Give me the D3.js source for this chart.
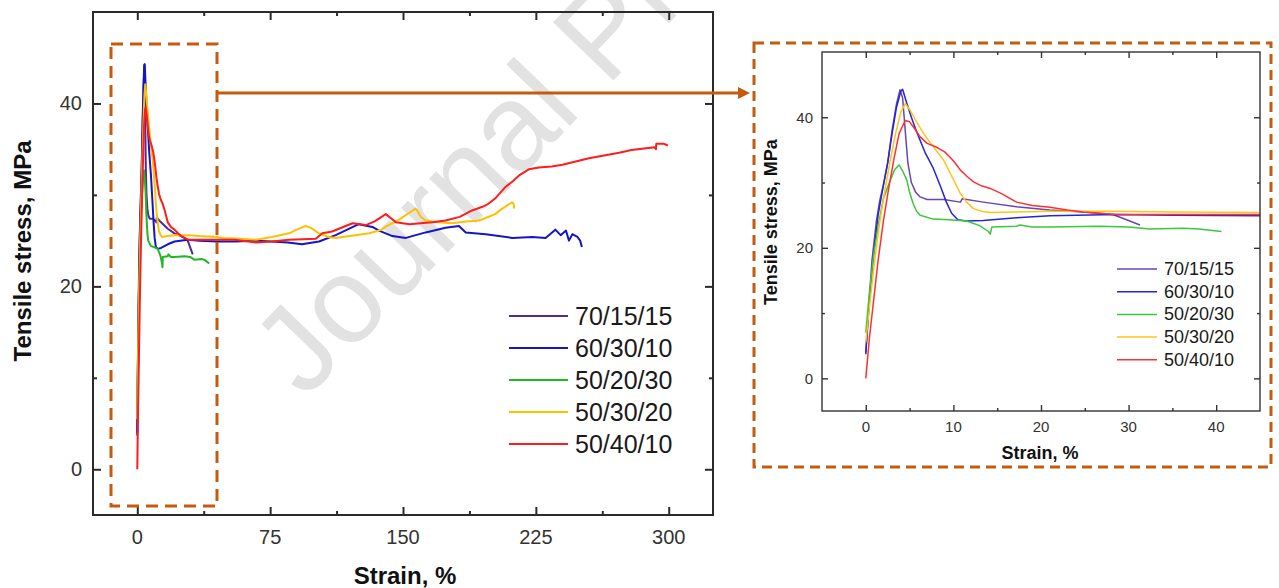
<!DOCTYPE html>
<html>
<head>
<meta charset="utf-8">
<script src="https://cdn.jsdelivr.net/npm/d3@7"></script>
<style>
body{margin:0;background:#fff;}
svg{display:block;font-family:"Liberation Sans",Arial,sans-serif;}
</style>
</head>
<body>
<svg id="chart" width="1279" height="588"></svg>
<script>
// sample names, legend order
var names=["70/15/15","60/30/10","50/20/30","50/30/20","50/40/10"];
var colorsMain=["#4f2a98","#1515c8","#22b822","#ffc000","#ff1c1c"];
var colorsInset=["#6a45b4","#2424d8","#3cc83c","#ffc414","#ff3030"];

// strain (%) / stress (MPa)
var strain7015=[0,0.3,0.7,1.2,1.6,2.0,2.5,3.0,3.5,3.9,4.2,4.5,4.8,5.2,5.7,6.2,7.0,8.9,10.8,11.0,13.4,17.2,21,24.8,28.2,29.4,31.3];
var stress7015=[4,10,18,24,27.3,29.6,33,38,42,44.2,43,38,33,30,28.5,27.8,27.4,27.4,27.0,27.5,27.0,26.3,25.8,25.5,25.1,24.5,23.5];

var strain6030=[0,0.4,0.9,1.4,2.0,2.5,3.0,3.5,4.0,4.2,4.6,5.2,5.8,6.8,7.7,8.5,9.2,9.8,10.5,11.5,13.4,17.2,21,28.6,35,45,55,67,76,85,93,102.6,112,125,132.7,136.5,144,151.6,162.8,174,181.6,185.4,196.7,211.6,223,230.5,236,239,242,243.7,245.6,248.5,250,251];
var stress6030=[3.7,12,19,25,29.5,33,37.5,41.5,44.0,44.3,42.5,40,37.8,34.5,32.2,29.5,27,25.3,24.3,24.1,24.2,24.6,24.9,25.1,25.0,24.9,24.9,25.0,24.9,24.8,24.6,24.9,25.6,26.8,26.5,26.1,25.5,25.3,25.9,26.4,26.6,25.9,25.7,25.3,25.4,25.3,26.2,25.6,26.1,25.0,25.7,25.4,25.0,24.3];

var strain5020=[0,0.4,0.9,1.5,2.0,2.7,3.3,3.8,4.2,4.7,5.0,5.4,5.8,6.2,7.7,9.5,11.5,13.0,14.0,14.2,14.4,17.2,17.6,19,21,26.7,30,32.4,36.2,38,40.6];
var stress5020=[7,13,19,24,27.5,30,32,32.7,31.8,30.3,28.5,26.8,25.6,25.0,24.4,24.3,24.1,23.4,22.5,22.1,23.2,23.3,23.5,23.2,23.2,23.3,23.2,22.9,23.0,22.9,22.5];

var strain5030=[0,0.5,1.0,1.6,2.2,2.8,3.4,4.0,4.5,5.0,5.8,6.6,7.7,8.9,9.8,10.8,11.5,12.3,13.2,14.2,17,21,28.6,35,45,48,58,67,76,85.7,90,95,98,102.6,108,112,123,131,138,140,147.8,154,157,158,160,162.8,170,177.8,185.6,193,197,202,206,211.6,212.5,212.8];
var stress5030=[5.5,12,18,24,29,33.5,37.5,40.8,42.1,41.2,39.3,37.5,35.5,33.4,31,28.3,27,26,25.6,25.4,25.5,25.6,25.6,25.5,25.4,25.3,25.2,25.1,25.4,25.8,26.2,26.6,26.4,25.8,25.4,25.3,25.6,25.8,26.2,26.5,27.3,28.1,28.5,28.3,27.6,27.2,27.0,26.9,27.1,27.2,27.5,27.9,28.5,29.2,29.0,28.5];

var strain5040=[0,0.4,0.9,1.4,2.0,2.6,3.2,3.8,4.5,5.0,5.6,6.2,7.0,8.1,9.0,9.6,10.2,10.8,11.5,12.3,13.2,14.2,15.5,17.2,19,21,23,24.8,28.6,35,45,55,67,76,85.7,100.8,104.5,110,121.5,129,134,140.3,146,153.7,160,166.6,174,182,189,194.8,198,202,208,212,216,221,226.7,234,240,255,272,279,292,292.8,293,297,299.5];
var stress5040=[0,6,12,18,24,29,33.5,37.5,39.5,39.3,38.2,37,36,35.4,34.7,33.9,33,31.9,31,30.1,29.5,29.1,28.3,27.0,26.5,26.2,25.8,25.5,25.1,25.1,25.1,25.1,24.8,24.9,25.1,25.2,25.8,26.0,26.9,26.7,27.1,27.9,27.0,26.8,26.9,27.0,27.2,27.6,28.3,28.7,29.0,29.6,30.9,31.5,32.2,32.8,33.0,33.1,33.3,34.0,34.6,34.9,35.2,35.0,35.6,35.6,35.4];

var strainSets=[strain7015,strain6030,strain5020,strain5030,strain5040];
var stressSets=[stress7015,stress6030,stress5020,stress5030,stress5040];

// tick values
var mainXTicks=[0,75,150,225,300];
var mainXMinor=[37.5,112.5,187.5,262.5];
var yTicks=[0,20,40];
var yMinor=[10,30];
var insetXTicks=[0,10,20,30,40];
var insetXMinor=[5,15,25,35];

var svg=d3.select("#chart");
var boxColor="#c55a11";

//////////// watermark
svg.append("text")
	.attr("transform","translate(305,400) rotate(-46)")
	.attr("font-size",122)
	.attr("fill","#e2e2e2")
	.text("Journal Pre-proof");

//////////// build one panel (frame, ticks, labels, curves, legend)
function drawPanel(opt){
	var x=d3.scaleLinear().domain(opt.xDomain).range([opt.left,opt.right]);
	var y=d3.scaleLinear().domain([-5,50]).range([opt.bottom,opt.top]);
	var g=svg.append("g");
	var clipId="clip"+opt.id;

	g.append("clipPath").attr("id",clipId)
		.append("rect")
		.attr("x",opt.left).attr("y",opt.top)
		.attr("width",opt.right-opt.left).attr("height",opt.bottom-opt.top);

	// inward ticks on all four sides
	var axB=d3.axisTop(x).tickValues(opt.xTicks).tickSize(opt.major).tickFormat("");
	var axT=d3.axisBottom(x).tickValues(opt.xTicks).tickSize(opt.major).tickFormat("");
	var axL=d3.axisRight(y).tickValues(yTicks).tickSize(opt.major).tickFormat("");
	var axR=d3.axisLeft(y).tickValues(yTicks).tickSize(opt.major).tickFormat("");
	var mB=d3.axisTop(x).tickValues(opt.xMinor).tickSize(opt.minor).tickFormat("");
	var mT=d3.axisBottom(x).tickValues(opt.xMinor).tickSize(opt.minor).tickFormat("");
	var mL=d3.axisRight(y).tickValues(yMinor).tickSize(opt.minor).tickFormat("");
	var mR=d3.axisLeft(y).tickValues(yMinor).tickSize(opt.minor).tickFormat("");

	[[axB,mB,"translate(0,"+opt.bottom+")"],[axT,mT,"translate(0,"+opt.top+")"],
	 [axL,mL,"translate("+opt.left+",0)"],[axR,mR,"translate("+opt.right+",0)"]].forEach(function(a){
		var ga=g.append("g").attr("transform",a[2]).call(a[0]);
		var gm=g.append("g").attr("transform",a[2]).call(a[1]);
		[ga,gm].forEach(function(s){
			s.select(".domain").remove();
			s.selectAll("line").attr("stroke",opt.frameColor).attr("stroke-width",opt.frameWidth);
		});
	});

	// tick labels
	g.selectAll(".xl").data(opt.xTicks).enter().append("text")
		.attr("x",function(d){return x(d);})
		.attr("y",opt.bottom+opt.xLabelGap)
		.attr("text-anchor","middle")
		.attr("dominant-baseline","central")
		.attr("font-size",opt.tickFont)
		.attr("fill","#333")
		.text(function(d){return d;});
	g.selectAll(".yl").data(yTicks).enter().append("text")
		.attr("x",opt.left-opt.yLabelGap)
		.attr("y",function(d){return y(d);})
		.attr("text-anchor","end")
		.attr("dominant-baseline","central")
		.attr("font-size",opt.tickFont)
		.attr("fill","#333")
		.text(function(d){return d;});

	// axis titles
	g.append("text")
		.attr("x",opt.xTitle[0]).attr("y",opt.xTitle[1])
		.attr("text-anchor","middle").attr("dominant-baseline","central")
		.attr("font-size",opt.titleFont).attr("font-weight","bold").attr("fill","#111")
		.text("Strain, %");
	g.append("text")
		.attr("transform","translate("+opt.yTitle[0]+","+opt.yTitle[1]+") rotate(-90)")
		.attr("text-anchor","middle").attr("dominant-baseline","central")
		.attr("font-size",opt.titleFont).attr("font-weight","bold").attr("fill","#111")
		.text("Tensile stress, MPa");

	// curves
	var line=d3.line().x(function(d){return x(d[0]);}).y(function(d){return y(d[1]);});
	var curves=g.append("g").attr("clip-path","url(#"+clipId+")");
	for(var i=0;i<names.length;i++){
		var pts=d3.zip(strainSets[i],stressSets[i]);
		curves.append("path")
			.datum(pts)
			.attr("d",line)
			.attr("fill","none")
			.attr("stroke",opt.colors[i])
			.attr("stroke-width",opt.lineWidth)
			.attr("stroke-linejoin","round");
	}

	// frame
	g.append("rect")
		.attr("x",opt.left).attr("y",opt.top)
		.attr("width",opt.right-opt.left).attr("height",opt.bottom-opt.top)
		.attr("fill","none").attr("stroke",opt.frameColor).attr("stroke-width",opt.frameWidth);

	// legend
	var leg=g.selectAll(".leg").data(names).enter().append("g")
		.attr("transform",function(d,i){return "translate(0,"+(opt.legY+i*opt.legStep)+")";});
	leg.append("line")
		.attr("x1",opt.legX).attr("x2",opt.legX+opt.legLen)
		.attr("stroke",function(d,i){return opt.colors[i];})
		.attr("stroke-width",opt.lineWidth);
	leg.append("text")
		.attr("x",opt.legX+opt.legLen+7)
		.attr("dominant-baseline","central")
		.attr("font-size",opt.legFont)
		.attr("fill","#1a1a1a")
		.text(function(d){return d;});
}

// main chart
drawPanel({
	id:"Main",left:93,right:713,top:12,bottom:515,
	xDomain:[-25,325],xTicks:mainXTicks,xMinor:mainXMinor,
	major:8,minor:4,frameColor:"#2a2a2a",frameWidth:2,
	tickFont:20,xLabelGap:22,yLabelGap:11,titleFont:24,
	xTitle:[405,575],yTitle:[22,251],
	colors:colorsMain,lineWidth:2,
	legX:509,legY:316,legStep:32,legLen:59,legFont:25
});

// zoomed inset
drawPanel({
	id:"Inset",left:822,right:1260,top:52,bottom:411,
	xDomain:[-5,45],xTicks:insetXTicks,xMinor:insetXMinor,
	major:6,minor:3,frameColor:"#333",frameWidth:1.4,
	tickFont:15,xLabelGap:15,yLabelGap:9,titleFont:18,
	xTitle:[1040,453],yTitle:[771,222],
	colors:colorsInset,lineWidth:1.5,
	legX:1117,legY:269,legStep:22.7,legLen:40,legFont:18
});

//////////// dashed boxes and arrow
svg.append("rect")
	.attr("x",111).attr("y",44).attr("width",106).attr("height",462)
	.attr("fill","none").attr("stroke",boxColor).attr("stroke-width",3)
	.attr("stroke-dasharray","12,7");
svg.append("rect")
	.attr("x",754).attr("y",43).attr("width",517).attr("height",424)
	.attr("fill","none").attr("stroke",boxColor).attr("stroke-width",3)
	.attr("stroke-dasharray","10,6");
svg.append("line")
	.attr("x1",217).attr("y1",93).attr("x2",740).attr("y2",93)
	.attr("stroke",boxColor).attr("stroke-width",3);
svg.append("path")
	.attr("d","M738,87L750,93L738,99Z")
	.attr("fill",boxColor);
</script>
</body>
</html>
